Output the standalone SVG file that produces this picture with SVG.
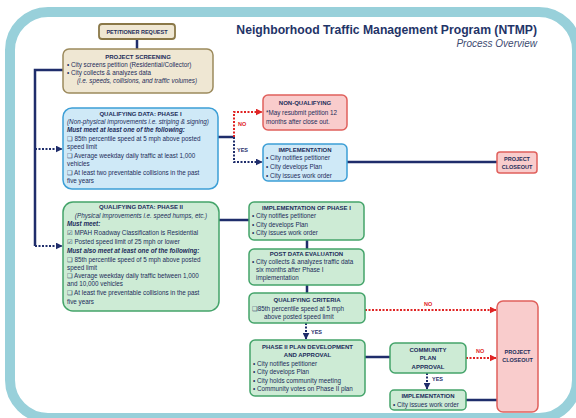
<svg xmlns="http://www.w3.org/2000/svg" width="576" height="418" viewBox="0 0 576 418">
<defs>
<style>
text{font-family:"Liberation Sans","DejaVu Sans",sans-serif;fill:#1c2c5a;font-size:6.3px}
.t{font-weight:bold;text-anchor:middle;font-size:6px}
.c{text-anchor:middle}
.i{font-style:italic}
.bi{font-style:italic;font-weight:bold}
.tan{fill:#efe7d3;stroke:#9c8a5c;stroke-width:1.5}
.blue{fill:#cfe9f7;stroke:#3d9fd6;stroke-width:1.5}
.red{fill:#f9cccc;stroke:#e0605c;stroke-width:1.5}
.green{fill:#cdebd5;stroke:#44a46a;stroke-width:1.5}
.ln{fill:none;stroke:#1f2d6b;stroke-width:2.5}
.dn{fill:none;stroke:#1f2d6b;stroke-width:2;stroke-dasharray:2 1.5}
.dr{fill:none;stroke:#e02424;stroke-width:2;stroke-dasharray:2 1.5}
.lr{fill:#e02424;font-weight:bold;font-size:5.5px}
.ly{fill:#1f2d6b;font-weight:bold;font-size:5.5px}
</style>
<marker id="an" viewBox="0 0 10 10" refX="9" refY="5" markerWidth="7" markerHeight="7" markerUnits="userSpaceOnUse" orient="auto"><path d="M0,0 L10,5 L0,10 z" fill="#1f2d6b"/></marker>
<marker id="ar" viewBox="0 0 10 10" refX="9" refY="5" markerWidth="7" markerHeight="7" markerUnits="userSpaceOnUse" orient="auto"><path d="M0,0 L10,5 L0,10 z" fill="#e02424"/></marker>
</defs>
<rect width="576" height="418" fill="#ffffff"/>
<rect x="10" y="12" width="567" height="406" rx="38" fill="#ffffff" stroke="#98d0da" stroke-width="10"/>

<g id="title">
<text x="537" y="34" style="font-size:12.2px;font-weight:bold;text-anchor:end;fill:#1f3468">Neighborhood Traffic Management Program (NTMP)</text>
<text x="537" y="47" style="font-size:10px;font-style:italic;text-anchor:end;fill:#3c4a70">Process Overview</text>
</g>

<g id="connectors">
<path class="ln" d="M137,39 V49"/>
<path class="ln" d="M63,70 H35 V246"/>
<path class="dn" d="M35,149 H62" marker-end="url(#an)"/>
<path class="dn" d="M35,246 H62" marker-end="url(#an)"/>
<path class="ln" d="M218,137 H234"/>
<path class="dr" d="M234,137 V112 H262" marker-end="url(#ar)"/>
<path class="dn" d="M234,137 V162 H262" marker-end="url(#an)"/>
<text class="lr" x="238" y="126">NO</text>
<text class="ly" x="237" y="152">YES</text>
<path class="ln" d="M347,162 H497"/>
<path class="ln" d="M219,220 H249"/>
<path class="ln" d="M307,240 V249"/>
<path class="ln" d="M307,285 V293"/>
<path class="dr" d="M365,310 H496" marker-end="url(#ar)"/>
<text class="lr" x="424" y="306">NO</text>
<path class="dn" d="M306,323 V339" marker-end="url(#an)"/>
<text class="ly" x="311" y="334">YES</text>
<path class="ln" d="M365,357 H390"/>
<path class="dr" d="M466,358 H496" marker-end="url(#ar)"/>
<text class="lr" x="476" y="353">NO</text>
<path class="dn" d="M427,373 V389" marker-end="url(#an)"/>
<text class="ly" x="432" y="381">YES</text>
<path class="ln" d="M466,400 H497"/>
</g>

<g id="petitioner-request">
<rect class="tan" x="99" y="24" width="76" height="15" rx="3" style="stroke:#8a7848;stroke-width:1.8"/>
<text class="t" x="137" y="33.8" style="font-size:5.5px">PETITIONER REQUEST</text>
</g>

<g id="project-screening">
<rect class="tan" x="63" y="49" width="150" height="44" rx="6"/>
<text class="t" x="138" y="59">PROJECT SCREENING</text>
<text x="67" y="67">• City screens petition (Residential/Collector)</text>
<text x="67" y="75">• City collects &amp; analyzes data</text>
<text class="i" x="77" y="83">(i.e. speeds, collisions, and traffic volumes)</text>
</g>

<g id="phase1">
<rect class="blue" x="63" y="108" width="155" height="81" rx="9"/>
<text class="t" x="140.5" y="115.5">QUALIFYING DATA: PHASE I</text>
<text class="i" x="67" y="123.5">(Non-physical improvements i.e. striping &amp; signing)</text>
<text class="bi" x="67" y="132">Must meet at least one of the following:</text>
<text x="67" y="141">❑ 85th percentile speed at 5 mph above posted</text>
<text x="67" y="149">speed limit</text>
<text x="67" y="157.5">❑ Average weekday daily traffic at least 1,000</text>
<text x="67" y="165.5">vehicles</text>
<text x="67" y="175">❑ At least two preventable collisions in the past</text>
<text x="67" y="183">five years</text>
</g>

<g id="non-qualifying">
<rect class="red" x="263" y="95" width="84" height="35" rx="5"/>
<text class="t" x="305" y="105">NON-QUALIFYING</text>
<text x="266" y="115">*May resubmit petition 12</text>
<text x="266" y="124">months after close out.</text>
</g>

<g id="implementation1">
<rect class="blue" x="263" y="144" width="84" height="37" rx="5"/>
<text class="t" x="305" y="152">IMPLEMENTATION</text>
<text x="266" y="160">• City notifies petitioner</text>
<text x="266" y="169">• City develops Plan</text>
<text x="266" y="178">• City issues work order</text>
</g>

<g id="closeout1">
<rect class="red" x="497" y="152" width="40" height="21" rx="3"/>
<text class="t" x="517" y="161" style="font-size:5.5px">PROJECT</text>
<text class="t" x="517" y="169" style="font-size:5.5px">CLOSEOUT</text>
</g>

<g id="phase2">
<rect class="green" x="63" y="202" width="156" height="109" rx="10"/>
<text class="t" x="141" y="209">QUALIFYING DATA: PHASE II</text>
<text class="i c" x="141" y="218">(Physical improvements i.e. speed humps, etc.)</text>
<text class="bi" x="67" y="226">Must meet:</text>
<text x="67" y="235">☑ MPAH Roadway Classification is Residential</text>
<text x="67" y="244">☑ Posted speed limit of 25 mph or lower</text>
<text class="bi" x="67" y="253">Must also meet at least one of the following:</text>
<text x="67" y="262">❑ 85th percentile speed of 5 mph above posted</text>
<text x="67" y="269.5">speed limit</text>
<text x="67" y="278">❑ Average weekday daily traffic between 1,000</text>
<text x="67" y="286">and 10,000 vehicles</text>
<text x="67" y="295">❑ At least five preventable collisions in the past</text>
<text x="67" y="303.5">five years</text>
</g>

<g id="impl-phase1">
<rect class="green" x="249" y="202" width="115" height="38" rx="5"/>
<text class="t" x="306.5" y="209.5">IMPLEMENTATION OF PHASE I</text>
<text x="252" y="218">• City notifies petitioner</text>
<text x="252" y="226.5">• City develops Plan</text>
<text x="252" y="235">• City issues work order</text>
</g>

<g id="post-data">
<rect class="green" x="249" y="249" width="115" height="36" rx="5"/>
<text class="t" x="306.5" y="256">POST DATA EVALUATION</text>
<text x="252" y="264">• City collects &amp; analyzes traffic data</text>
<text x="256" y="272">six months after Phase I</text>
<text x="256" y="280">implementation</text>
</g>

<g id="qualifying-criteria">
<rect class="green" x="249" y="293" width="116" height="30" rx="5"/>
<text class="t" x="307" y="302">QUALIFYING CRITERIA</text>
<text x="252" y="311">❑85th percentile speed at 5 mph</text>
<text x="264" y="319">above posted speed limit</text>
</g>

<g id="phase2-plan">
<rect class="green" x="250" y="340" width="115" height="56" rx="5"/>
<text class="t" x="307.5" y="349">PHASE II PLAN DEVELOPMENT</text>
<text class="t" x="307.5" y="357">AND APPROVAL</text>
<text x="253" y="366">• City notifies petitioner</text>
<text x="253" y="374">• City develops Plan</text>
<text x="253" y="382.5">• City holds community meeting</text>
<text x="253" y="391">• Community votes on Phase II plan</text>
</g>

<g id="community-approval">
<rect class="green" x="390" y="343" width="76" height="30" rx="5"/>
<text class="t" x="428" y="352">COMMUNITY</text>
<text class="t" x="428" y="360">PLAN</text>
<text class="t" x="428" y="369">APPROVAL</text>
</g>

<g id="implementation2">
<rect class="green" x="390" y="390" width="76" height="20" rx="4"/>
<text class="t" x="428" y="398">IMPLEMENTATION</text>
<text x="393" y="406.5">• City issues work order</text>
</g>

<g id="closeout2">
<rect class="red" x="497" y="301" width="41" height="111" rx="6"/>
<text class="t" x="517.5" y="354" style="font-size:5.5px">PROJECT</text>
<text class="t" x="517.5" y="362" style="font-size:5.5px">CLOSEOUT</text>
</g>
</svg>
